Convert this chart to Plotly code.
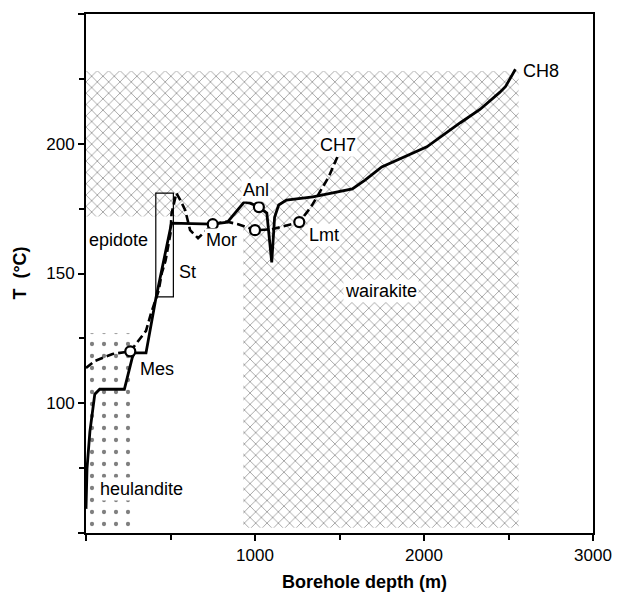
import plotly.graph_objects as go

# ---------------- data ----------------
# CH8 borehole temperature profile (solid)
ch8_depth = [0, 6, 23, 52, 81, 227, 273, 285, 355, 413, 506, 750, 837, 936, 971,
             1023, 1070, 1099, 1116, 1140, 1186, 1343, 1576, 1651, 1750, 1884,
             2017, 2215, 2331, 2448, 2483, 2541]
ch8_temp = [59.3, 74.8, 89.1, 103.5, 105.4, 105.4, 117.4, 119.4, 119.4, 140.3,
            169.4, 169.0, 169.8, 177.5, 177.1, 175.6, 173.3, 154.3, 171.7, 176.4,
            178.3, 179.5, 182.6, 186.0, 191.1, 195.0, 198.8, 208.1, 213.2, 219.8,
            222.1, 228.7]

# CH7 borehole temperature profile (dashed)
ch7_depth = [0, 52, 157, 262, 355, 384, 430, 448, 471, 500, 506, 529, 535, 558,
             587, 616, 663, 750, 830, 900, 1000, 1100, 1180, 1262, 1331, 1372,
             1436, 1488]
ch7_temp = [113.6, 116.3, 119.0, 120.0, 127.9, 134.5, 143.4, 150.0, 155.0, 165.5,
            173.0, 180.2, 181.0, 178.3, 174.4, 166.7, 163.6, 169.0, 170.0, 169.0,
            166.7, 167.0, 168.5, 169.8, 175.6, 180.2, 187.2, 195.0]

# first appearance of minerals (circles)
min_depth = [262, 750, 1023, 1000, 1262]
min_temp = [120.0, 169.0, 175.6, 166.7, 169.8]

# alteration zones (hatched): name, depth from/to, temp from/to
zone_names = ["epidote", "wairakite", "heulandite"]
zone_d0 = [0, 930, 0]
zone_d1 = [930, 2560, 296]
zone_t0 = [172, 52, 52]
zone_t1 = [228, 228, 127]
zone_shape = ["x", "x", "."]

# stilbite box
st_d = [413, 517]
st_t = [141, 181]

# text labels
label_text = ["epidote", "St", "Mor", "Anl", "Lmt", "CH7", "CH8", "wairakite",
              "Mes", "heulandite"]
label_x = [192, 599, 802, 1006, 1407, 1494, 2692, 1744, 419, 326]
label_y = [162.8, 150.4, 162.8, 182.2, 164.7, 199.6, 227.9, 143.4, 113.2, 67]
label_bg = [None, None, "white", "white", "white", "white", None, "white", None, "white"]

x_ticks = [0, 1000, 2000, 3000]
x_ticktext = ["", "1000", "2000", "3000"]
y_ticks = [50, 100, 150, 200, 250]
y_ticktext = ["", "100", "150", "200", ""]

# ---------------- figure ----------------
fig = go.Figure()

for i, name in enumerate(zone_names):
    if zone_shape[i] == "x":
        patt = dict(shape="x", size=8, solidity=0.16, fgcolor="#000000", bgcolor="white")
    else:
        patt = dict(shape=".", size=12, solidity=0.10, fgcolor="#000000", bgcolor="white")
    fig.add_trace(go.Scatter(
        x=[zone_d0[i], zone_d1[i], zone_d1[i], zone_d0[i], zone_d0[i]],
        y=[zone_t0[i], zone_t0[i], zone_t1[i], zone_t1[i], zone_t0[i]],
        mode="lines", fill="toself", line=dict(width=0),
        fillcolor="white", fillpattern=patt, name=name, showlegend=False,
        hoverinfo="skip"))

fig.add_trace(go.Scatter(
    x=[st_d[0], st_d[1], st_d[1], st_d[0], st_d[0]],
    y=[st_t[0], st_t[0], st_t[1], st_t[1], st_t[0]],
    mode="lines", line=dict(color="black", width=1.2), showlegend=False))

fig.add_trace(go.Scatter(x=ch7_depth, y=ch7_temp, mode="lines",
                         line=dict(color="black", width=2.6, dash="8px,4px"),
                         name="CH7", showlegend=False))
fig.add_trace(go.Scatter(x=ch8_depth, y=ch8_temp, mode="lines",
                         line=dict(color="black", width=2.8),
                         name="CH8", showlegend=False))
fig.add_trace(go.Scatter(x=min_depth, y=min_temp, mode="markers",
                         marker=dict(symbol="circle", size=10, color="white",
                                     line=dict(color="black", width=2.2)),
                         showlegend=False))

for t, x, y, bg in zip(label_text, label_x, label_y, label_bg):
    fig.add_annotation(x=x, y=y, text=t, showarrow=False,
                       font=dict(size=18, color="black", family="Liberation Sans"),
                       bgcolor=bg if bg else "rgba(0,0,0,0)", borderpad=1)

fig.add_annotation(xref="paper", yref="paper", x=0.55, y=-0.095,
                   text="<b>Borehole depth (m)</b>", showarrow=False,
                   font=dict(size=18, color="black", family="Liberation Sans"),
                   yanchor="middle")
fig.add_annotation(xref="paper", yref="paper", x=-0.132, y=0.5,
                   text="<b>T  (°C)</b>", showarrow=False, textangle=-90,
                   font=dict(size=18, color="black", family="Liberation Sans"),
                   xanchor="center")

axis_common = dict(showgrid=False, zeroline=False, showline=True, linecolor="black",
                   linewidth=2, mirror=True, ticks="outside", ticklen=6, tickwidth=1.5,
                   tickcolor="black",
                   tickfont=dict(size=17, color="black", family="Liberation Sans"))

fig.update_xaxes(range=[0, 3000], tickvals=x_ticks, ticktext=x_ticktext,
                 minor=dict(dtick=500, ticks="outside", ticklen=5, tickwidth=1.5,
                            tickcolor="black"),
                 **axis_common)
fig.update_yaxes(range=[50, 250], tickvals=y_ticks, ticktext=y_ticktext,
                 minor=dict(dtick=25, ticks="outside", ticklen=5, tickwidth=1.5,
                            tickcolor="black"),
                 **axis_common)

fig.update_layout(width=624, height=594, margin=dict(l=86, r=22, t=14, b=61),
                  plot_bgcolor="white", paper_bgcolor="white", showlegend=False)

fig.write_html("out.html")
